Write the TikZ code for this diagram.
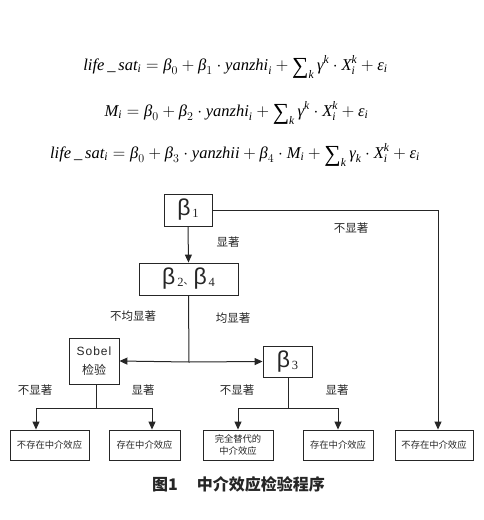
\documentclass[tikz,border=0pt]{standalone}
\usepackage{fontspec}
\setmainfont{Liberation Serif}
\newfontfamily\cjk{Noto Sans CJK SC}
\newfontfamily\arl{Liberation Sans}
\usetikzlibrary{arrows.meta}
\definecolor{ink}{HTML}{262626}
\newcommand{\bet}[1]{{\arl\fontsize{23}{24}\selectfont β}\hspace{2pt}{\rmfamily\fontsize{12.5}{13}\selectfont\raisebox{-2pt}{#1}}}
\newcommand{\gk}[1]{\mbox{\itshape #1}}
\newcommand{\msum}{\mathop{\mbox{\fontsize{23}{23}\selectfont\raisebox{-3pt}{∑}}}\nolimits}
\newcommand{\vv}[1]{\mathit{#1}}
\begin{document}
\begin{tikzpicture}[x=1pt,y=-1pt,
  box/.style={draw=ink,line width=0.9pt,inner sep=0pt,align=center,text=ink},
  lab/.style={text=ink,font=\cjk\fontsize{11.5}{12}\selectfont,inner sep=0pt},
  res/.style={box,minimum height=30pt,font=\cjk\fontsize{9.3}{11.5}\selectfont},
  conn/.style={draw=ink,line width=1pt},
  arr/.style={conn,-{Triangle[length=8pt,width=7pt]}},
  eq/.style={anchor=base,inner sep=0pt,text=black,font=\fontsize{16.5}{18}\selectfont}]
\useasboundingbox[fill=white] (0,0) rectangle (483,520);
% equations
\node[eq] (e1) at (235.5,70) {$\vv{life}\,\_\,\vv{sat}_{\vv{i}}=\gk{β}_0+\gk{β}_1\cdot \vv{yanzhi}_{\vv{i}}+\msum_{\vv{k}}\gk{γ}^{\vv{k}}\cdot \vv{X}_{\vv{i}}^{\vv{k}}+\gk{ε}_{\vv{i}}$};
\node[eq] (e2) at (236.5,116) {$\vv{M}_{\vv{i}}=\gk{β}_0+\gk{β}_2\cdot \vv{yanzhi}_{\vv{i}}+\msum_{\vv{k}}\gk{γ}^{\vv{k}}\cdot \vv{X}_{\vv{i}}^{\vv{k}}+\gk{ε}_{\vv{i}}$};
\node[eq] (e3) at (235,158) {$\vv{life}\,\_\,\vv{sat}_{\vv{i}}=\gk{β}_0+\gk{β}_3\cdot \vv{yanzhii}+\gk{β}_4\cdot \vv{M}_{\vv{i}}+\msum_{\vv{k}}\gk{γ}_{\vv{k}}\cdot \vv{X}_{\vv{i}}^{\vv{k}}+\gk{ε}_{\vv{i}}$};
% boxes
\node[box,minimum width=48pt,minimum height=32pt] (b1) at (188,210) {\bet{1}};
\node[box,minimum width=99pt,minimum height=32pt] (b24) at (188.5,279) {\bet{2}{\cjk\fontsize{10}{12}\selectfont 、}\bet{4}};
\node[box,minimum width=50pt,minimum height=46pt,font=\fontsize{12}{19}\selectfont] (sob) at (94,361) {{\arl\addfontfeature{LetterSpace=8}Sobel}\\{\cjk 检验}};
\node[box,minimum width=49pt,minimum height=31pt] (b3) at (287.5,361.5) {\bet{3}};
\node[res,minimum width=79pt] (n1) at (49.5,445) {不存在中介效应};
\node[res,minimum width=71pt] (n2) at (144.5,445) {存在中介效应};
\node[res,minimum width=70pt] (n3) at (238,445) {完全替代的\\中介效应};
\node[res,minimum width=70pt] (n4) at (338,445) {存在中介效应};
\node[res,minimum width=78pt] (n5) at (434,445) {不存在中介效应};
% junctions
\coordinate (c1) at (438,210);
\coordinate (j) at (189,362);
\coordinate (s1) at (96,408);
\coordinate (t1) at (288,408);
% connectors
\draw[conn] (b1.east) -- (c1);
\draw[arr] (c1) -- (c1 |- n5.north);
\draw[arr] (b1.south) -- (b24.north);
\draw[conn] (b24.south) -- (j);
\draw[arr] (j) -- (sob.east);
\draw[arr] (j) -- (b3.west);
\draw[conn] (sob.south -| s1) -- (s1);
\draw[arr] (s1) -| ([xshift=-13.5pt]n1.north);
\draw[arr] (s1) -| ([xshift=7.5pt]n2.north);
\draw[conn] (b3.south -| t1) -- (t1);
\draw[arr] (t1) -| (n3.north);
\draw[arr] (t1) -| (n4.north);
% labels
\node[lab] (l1) at (351,228) {不显著};
\node[lab] (l2) at (228,242) {显著};
\node[lab] (l3) at (133,316) {不均显著};
\node[lab] (l4) at (233,318) {均显著};
\node[lab] (l5) at (35,390) {不显著};
\node[lab] (l6) at (143,390) {显著};
\node[lab] (l7) at (237,390) {不显著};
\node[lab] (l8) at (337,390) {显著};
% caption
\node[inner sep=0pt,text=ink,font=\cjk\bfseries\fontsize{16}{17}\selectfont] (cap) at (238.5,484) {图1\hspace{1.2em}中介效应检验程序};
\end{tikzpicture}
\end{document}
